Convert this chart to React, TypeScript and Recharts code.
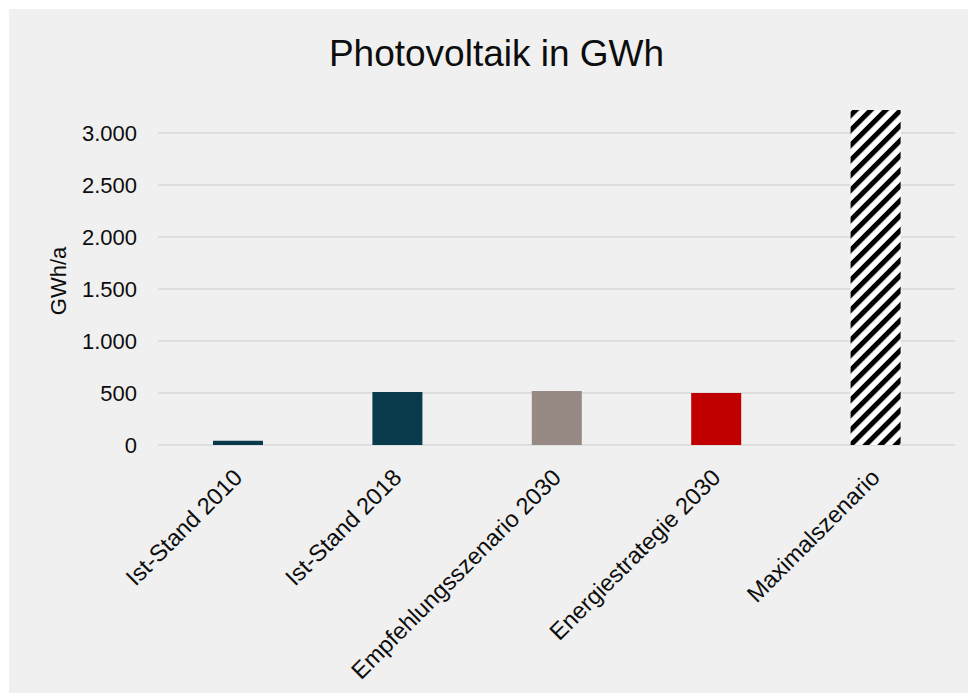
import React from 'react';
import { BarChart, Bar, XAxis, YAxis, CartesianGrid, Cell } from 'recharts';

// Photovoltaic yield per scenario, GWh per year
const categories = [
  'Ist-Stand 2010',
  'Ist-Stand 2018',
  'Empfehlungsszenario 2030',
  'Energiestrategie 2030',
  'Maximalszenario',
];
const values = [40, 510, 520, 500, 3220];
const fills = ['#083a4b', '#083a4b', '#978983', '#c00000', 'url(#pvStripes)'];
const yTicks = [0, 500, 1000, 1500, 2000, 2500, 3000];

const data = categories.map((name, i) => ({ name, value: values[i] }));

const FONT = '"Liberation Sans", Arial, sans-serif';
const TEXT = '#0d0d0d';

// German thousands separator: 3000 -> "3.000"
const formatDe = (v: number) => String(v).replace(/\B(?=(\d{3})+(?!\d))/g, '.');

const CategoryTick = (props: any) => {
  const { x, y, payload } = props;
  const ax = x + 6;
  const ay = y + 26;
  return (
    <text
      x={ax}
      y={ay}
      textAnchor="end"
      fontSize={23.5}
      fill={TEXT}
      fontFamily={FONT}
      transform={`rotate(-45, ${ax}, ${ay})`}
    >
      {payload.value}
    </text>
  );
};

const AxisTitle = () => (
  <text
    x={57}
    y={272}
    textAnchor="middle"
    fontSize={22}
    fill={TEXT}
    fontFamily={FONT}
    transform="rotate(-90, 57, 272)"
  >
    GWh/a
  </text>
);

// Gridlines only at the labelled ticks, placed through the y-axis scale
const gridRows = (args: any) => {
  const s = args?.yAxis?.scale;
  if (typeof s === 'function') return yTicks.map((t) => s(t));
  if (s && typeof s.map === 'function') return yTicks.map((t) => s.map(t));
  if (s && typeof s.scale === 'function') return yTicks.map((t) => s.scale(t));
  return undefined as any;
};

export default function App() {
  return (
    <div
      style={{
        position: 'absolute',
        left: 9,
        top: 9,
        width: 959,
        height: 684,
        background: '#f0f0f0',
        fontFamily: FONT,
      }}
    >
      <div
        style={{
          position: 'absolute',
          left: 0,
          top: 26,
          width: 975,
          textAlign: 'center',
          fontSize: 37,
          lineHeight: '37px',
          color: TEXT,
          whiteSpace: 'nowrap',
        }}
      >
        Photovoltaik in GWh
      </div>
      <BarChart
        width={959}
        height={684}
        data={data}
        margin={{ top: 72, right: 13, left: 0, bottom: 0 }}
        style={{ position: 'absolute', left: 0, top: 0 }}
      >
        <defs>
          <pattern
            id="pvStripes"
            patternUnits="userSpaceOnUse"
            width={10.6}
            height={10.6}
            patternTransform="rotate(45)"
          >
            <rect x={0} y={0} width={10.6} height={10.6} fill="#ffffff" />
            <rect x={0} y={0} width={5} height={10.6} fill="#000000" />
          </pattern>
        </defs>
        <CartesianGrid
          vertical={false}
          stroke="#d9d9d9"
          strokeWidth={1.5}
          horizontalCoordinatesGenerator={gridRows}
        />
        <XAxis
          dataKey="name"
          axisLine={false}
          tickLine={false}
          height={248}
          interval={0}
          tick={<CategoryTick />}
        />
        <YAxis
          width={149}
          domain={[0, 3500]}
          ticks={yTicks}
          axisLine={false}
          tickLine={false}
          tickMargin={15}
          tickFormatter={formatDe}
          tick={{ fill: TEXT, fontSize: 22, fontFamily: FONT }}
          label={{ value: 'GWh/a', content: () => <AxisTitle /> }}
        />
        <Bar dataKey="value" barSize={50} isAnimationActive={false}>
          {data.map((d, i) => (
            <Cell key={d.name} fill={fills[i]} />
          ))}
        </Bar>
      </BarChart>
    </div>
  );
}
